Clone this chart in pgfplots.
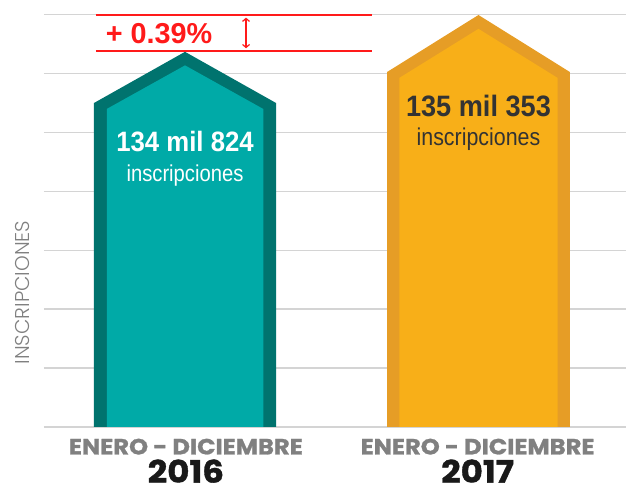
\documentclass[border=0pt]{standalone}
\usepackage{pgfplots}
\pgfplotsset{compat=1.18}
\usetikzlibrary{arrows.meta}
\usepackage{fontspec}
\setmainfont{Liberation Sans}
\newfontfamily\cond[FakeStretch=0.92]{Liberation Sans}
\newfontfamily\condl[FakeStretch=0.88]{Liberation Sans}
\newfontfamily\popB[FakeStretch=1.1,FakeBold=1.2]{Poppins Bold}
\newfontfamily\popl{Poppins Light}
\definecolor{tealfill}{HTML}{00AAA7}
\definecolor{tealdark}{HTML}{00736E}
\definecolor{yelfill}{HTML}{F8AF18}
\definecolor{yeldark}{HTML}{E69D26}
\definecolor{gridgray}{HTML}{D4D4D4}
\definecolor{myred}{HTML}{FF1A1A}
\definecolor{labgray}{HTML}{808080}
\definecolor{txtdark}{HTML}{333333}
\begin{document}
\begin{tikzpicture}
\begin{axis}[
  width=632bp, height=491bp, scale only axis,
  xmin=0.3664, xmax=2.5308, ymin=-1.0866, ymax=7.2496,
  axis line style={draw=none}, ticks=none, clip=false]
% grid lines
\pgfplotsinvokeforeach{0,1,2,3,4,5,6,7}{
  \addplot[gridgray, line width=1.5bp, forget plot] coordinates {(0.517,#1) (2.51,#1)};
}
% 2016 bar
\addplot[fill=tealdark, draw=none] coordinates {(0.688,0) (0.688,5.50) (1,6.37) (1.312,5.50) (1.312,0)} -- cycle;
\addplot[fill=tealfill, draw=none] coordinates {(0.732,0) (0.732,5.40) (1,6.14) (1.268,5.40) (1.268,0)} -- cycle;
% 2017 bar
\addplot[fill=yeldark, draw=none] coordinates {(1.692,0) (1.692,6.027) (2.005,6.995) (2.318,6.027) (2.318,0)} -- cycle;
\addplot[fill=yelfill, draw=none] coordinates {(1.734,0) (1.734,5.927) (2.005,6.76) (2.276,5.927) (2.276,0)} -- cycle;
% red difference markers
\addplot[myred, line width=2bp] coordinates {(0.695,7.0) (1.640,7.0)};
\addplot[myred, line width=2bp] coordinates {(0.695,6.384) (1.640,6.384)};
\addplot[myred, line width=1.2bp, {Straight Barb[length=3bp,width=7bp]}-{Straight Barb[length=3bp,width=7bp]}] coordinates {(1.209,6.95) (1.209,6.43)};
\node[anchor=base, text=myred, font=\fontsize{28.8bp}{30bp}\selectfont\bfseries] at (axis cs:0.911,6.514) {+ 0.39\%};
% values
\node[anchor=base, text=white, font=\fontsize{28bp}{30bp}\cond\bfseries] at (axis cs:1,4.675) {134 mil 824};
\node[anchor=base, text=white, font=\fontsize{23bp}{25bp}\condl] at (axis cs:1,4.160) {inscripciones};
\node[anchor=base, text=txtdark, font=\fontsize{29.5bp}{31bp}\cond\bfseries] at (axis cs:2.005,5.268) {135 mil 353};
\node[anchor=base, text=txtdark, font=\fontsize{24.3bp}{26bp}\condl] at (axis cs:2.005,4.776) {inscripciones};
% category labels
\node[anchor=base, inner sep=0pt, text=labgray, font=\fontsize{22bp}{23bp}\popB] at (axis cs:1.003,-0.465) {ENERO - DICIEMBRE};
\node[anchor=base, inner sep=0pt, text=black!90, font=\fontsize{31bp}{32bp}\popB] at (axis cs:1.003,-0.945) {2016};
\node[anchor=base, inner sep=0pt, text=labgray, font=\fontsize{22bp}{23bp}\popB] at (axis cs:2.002,-0.465) {ENERO - DICIEMBRE};
\node[anchor=base, inner sep=0pt, text=black!90, font=\fontsize{31bp}{32bp}\popB] at (axis cs:2.002,-0.945) {2017};
% y label
\node[rotate=90, text=labgray, font=\fontsize{20bp}{22bp}\popl] at (axis cs:0.442,2.284) {INSCRIPCIONES};
\end{axis}
\end{tikzpicture}
\end{document}
